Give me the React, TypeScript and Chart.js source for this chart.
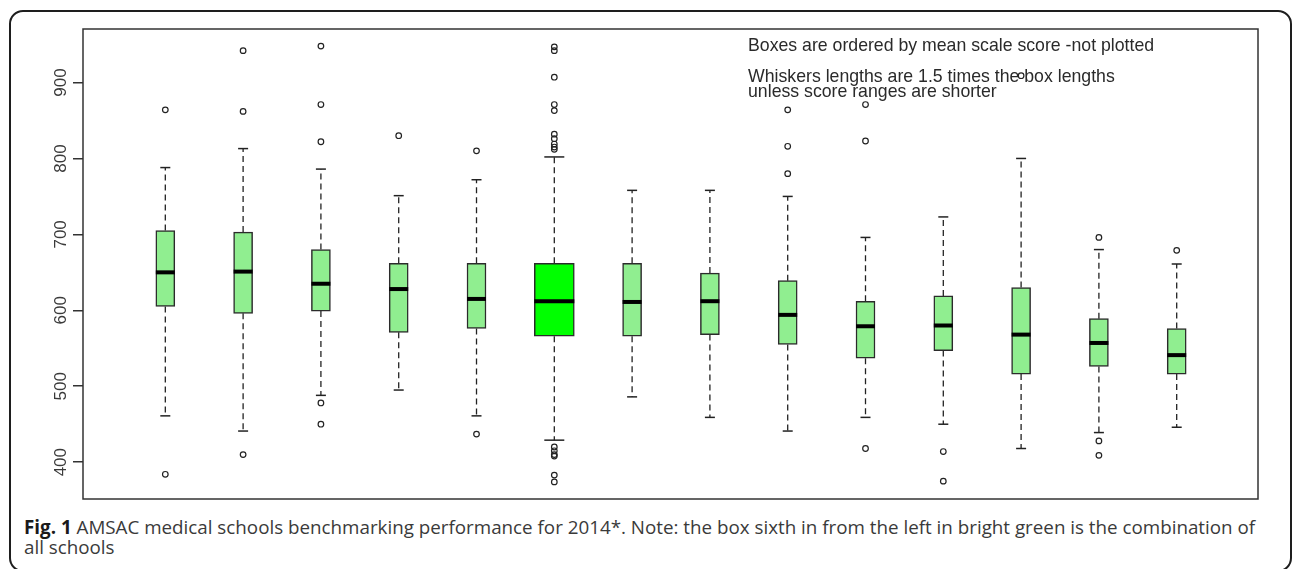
import React, { useEffect, useRef } from "react";
import { Chart, registerables } from "chart.js";

Chart.register(...registerables);

// ---- data ----
const schools = ["1", "2", "3", "4", "5", "6", "7", "8", "9", "10", "11", "12", "13", "14"];
const highlightIndex = 5; // "all schools" combined box
const q1 = [605, 596, 599, 571, 576, 566, 566, 568, 555, 537, 547, 516, 526, 516];
const medians = [650, 651, 635, 628, 615, 612, 611, 612, 594, 579, 580, 568, 557, 541];
const q3 = [705, 703, 680, 662, 662, 662, 662, 649, 639, 612, 619, 630, 589, 576];
const whiskerLow = [461, 441, 488, 495, 461, 429, 486, 459, 441, 459, 450, 418, 439, 446];
const whiskerHigh = [788, 813, 786, 751, 772, 802, 758, 758, 750, 696, 723, 800, 680, 661];
const outliers: number[][] = [
  [864, 384],
  [942, 862, 410],
  [948, 871, 822, 478, 450],
  [830],
  [810, 437],
  [947, 942, 907, 871, 863, 832, 826, 819, 815, 812, 420, 415, 410, 408, 383, 374],
  [],
  [],
  [864, 816, 780],
  [871, 823, 418],
  [414, 375],
  [909],
  [696, 428, 409],
  [679],
];
const yTicks = [400, 500, 600, 700, 800, 900];
const noteLines = [
  "Boxes are ordered by mean scale score -not plotted",
  "Whiskers lengths are 1.5 times the box lengths",
  "unless score ranges are shorter",
];
const captionBold = "Fig. 1";
const captionLine1 =
  " AMSAC medical schools benchmarking performance for 2014*. Note: the box sixth in from the left in bright green is the combination of";
const captionLine2 = "all schools";

const pos = (i: number) => i + 1;

const framePlugin = {
  id: "plotFrame",
  afterDatasetsDraw(chart: any) {
    const { ctx, chartArea, scales } = chart;
    ctx.save();
    ctx.strokeStyle = "#333";
    ctx.lineWidth = 1.5;
    ctx.strokeRect(chartArea.left, chartArea.top, chartArea.right - chartArea.left, chartArea.bottom - chartArea.top);
    // note text
    ctx.fillStyle = "#2a2a2a";
    ctx.font = '17.7px "Liberation Sans", Arial, sans-serif';
    ctx.textAlign = "left";
    ctx.textBaseline = "alphabetic";
    const x = scales.x.getPixelForValue(8.49);
    const ys = [941, 901.3, 880.3];
    noteLines.forEach((t, k) => ctx.fillText(t, x, scales.y.getPixelForValue(ys[k])));
    ctx.restore();
  },
};

export default function App() {
  const ref = useRef<HTMLCanvasElement | null>(null);

  useEffect(() => {
    if (!ref.current) return;
    const regIdx = schools.map((_, i) => i).filter((i) => i !== highlightIndex);

    const whiskerData: any[] = [];
    schools.forEach((_, i) => {
      whiskerData.push({ x: pos(i), y: q3[i] }, { x: pos(i), y: whiskerHigh[i] }, { x: pos(i), y: null });
      whiskerData.push({ x: pos(i), y: q1[i] }, { x: pos(i), y: whiskerLow[i] }, { x: pos(i), y: null });
    });

    const capData: any[] = [];
    const capRadius: number[] = [];
    schools.forEach((_, i) => {
      const r = i === highlightIndex ? 10 : 5;
      capData.push({ x: pos(i), y: whiskerHigh[i] }, { x: pos(i), y: whiskerLow[i] });
      capRadius.push(r, r);
    });

    const outlierData: any[] = [];
    outliers.forEach((arr, i) => arr.forEach((v) => outlierData.push({ x: pos(i), y: v })));

    const chart = new Chart(ref.current, {
      type: "bar",
      data: {
        datasets: [
          {
            type: "line",
            data: whiskerData,
            borderColor: "#222",
            borderWidth: 1.3,
            borderDash: [6, 4],
            pointRadius: 0,
            spanGaps: false,
            fill: false,
            order: 5,
          } as any,
          {
            type: "bar",
            data: regIdx.map((i) => ({ x: pos(i), y: [q1[i], q3[i]] })),
            backgroundColor: "#90EE90",
            borderColor: "#2b2b2b",
            borderWidth: 1.5,
            borderSkipped: false,
            barThickness: 19,
            grouped: false,
            order: 4,
          } as any,
          {
            type: "bar",
            data: [{ x: pos(highlightIndex), y: [q1[highlightIndex], q3[highlightIndex]] }],
            backgroundColor: "#00FF00",
            borderColor: "#2b2b2b",
            borderWidth: 1.5,
            borderSkipped: false,
            barThickness: 40,
            grouped: false,
            order: 4,
          } as any,
          {
            type: "scatter",
            data: medians.map((m, i) => ({ x: pos(i), y: m })),
            pointStyle: "line",
            pointRadius: medians.map((_, i) => (i === highlightIndex ? 20 : 9.5)),
            pointBorderWidth: 4,
            borderWidth: 4,
            borderColor: "#000",
            pointBorderColor: "#000",
            order: 3,
          } as any,
          {
            type: "scatter",
            data: capData,
            pointStyle: "line",
            pointRadius: capRadius,
            pointBorderWidth: 1.5,
            borderWidth: 1.5,
            borderColor: "#222",
            pointBorderColor: "#222",
            order: 2,
          } as any,
          {
            type: "scatter",
            data: outlierData,
            pointStyle: "circle",
            pointRadius: 2.8,
            pointBorderWidth: 1.2,
            borderWidth: 1.2,
            borderColor: "#222",
            pointBorderColor: "#222",
            backgroundColor: "rgba(0,0,0,0)",
            pointBackgroundColor: "rgba(0,0,0,0)",
            order: 1,
          } as any,
        ],
      },
      options: {
        responsive: false,
        animation: false,
        events: [],
        layout: { autoPadding: false, padding: { left: 0, top: 29, right: 35, bottom: 6 } },
        plugins: { legend: { display: false }, tooltip: { enabled: false } },
        scales: {
          x: {
            type: "linear",
            display: false,
            min: -0.058,
            max: 15.045,
            offset: false,
          },
          y: {
            type: "linear",
            min: 351.5,
            max: 970.5,
            afterFit: (s: any) => {
              s.width = 83;
              s.paddingTop = 0;
              s.paddingBottom = 0;
            },
            afterBuildTicks: (s: any) => {
              s.ticks = yTicks.map((v) => ({ value: v }));
            },
            border: { display: false },
            grid: {
              drawOnChartArea: false,
              drawTicks: true,
              tickLength: 10,
              color: "#333",
              lineWidth: 1.5,
            },
            ticks: {
              minRotation: 90,
              maxRotation: 90,
              crossAlign: "center",
              padding: -2,
              color: "#3a3a3a",
              font: { family: '"Liberation Sans", Arial, sans-serif', size: 17 },
            },
          },
        },
      },
      plugins: [framePlugin],
    } as any);
    return () => chart.destroy();
  }, []);

  return (
    <div style={{ position: "absolute", left: 0, top: 0, width: 1293, height: 569, overflow: "hidden", background: "#fff" }}>
      <div
        style={{
          position: "absolute",
          left: 9,
          top: 10,
          width: 1283,
          height: 562,
          boxSizing: "border-box",
          border: "2px solid #1e1e1e",
          borderRadius: 14,
        }}
      />
      <canvas ref={ref} width={1293} height={505} style={{ position: "absolute", left: 0, top: 0, width: 1293, height: 505 }} />
      <div
        style={{
          position: "absolute",
          left: 24,
          top: 518,
          fontFamily: '"Open Sans", "Noto Sans", sans-serif',
          fontSize: 18.8,
          lineHeight: "19.5px",
          color: "#3a3a3a",
          whiteSpace: "nowrap",
        }}
      >
        <div>
          <b style={{ color: "#1a1a1a" }}>{captionBold}</b>
          {captionLine1}
        </div>
        <div>{captionLine2}</div>
      </div>
    </div>
  );
}
